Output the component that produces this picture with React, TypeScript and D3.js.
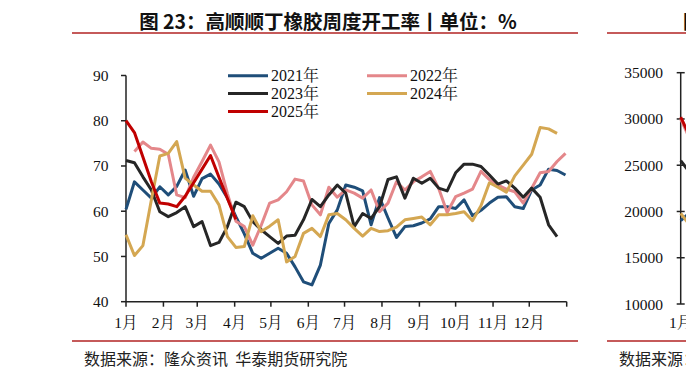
import React from "react";
import * as d3 from "d3";

// ---------- data ----------
const monthLabels = ["1月", "2月", "3月", "4月", "5月", "6月", "7月", "8月", "9月", "10月", "11月", "12月"];
const monthStartDays = [0, 31, 59, 90, 120, 151, 181, 212, 243, 273, 304, 334, 365];
const yTicks = [40, 50, 60, 70, 80, 90];
const rightYTicks = [10000, 15000, 20000, 25000, 30000, 35000];

const seriesNames = ["2021年", "2022年", "2023年", "2024年", "2025年"];
const seriesColors = ["#1F4E79", "#E4878A", "#262626", "#D4A752", "#C00000"];
const seriesStartWeek = [0, 1, 0, 0, 0];

const v2021 = [60.4, 66.5, 64.7, 62.9, 65.4, 63.6, 65.5, 69.1, 63.3, 67.2, 68.2, 66.0, 62.9, 58.8, 55.0, 50.7, 49.6, 50.7, 51.8, 50.7, 47.7, 44.4, 43.7, 48.1, 57.3, 60.3, 65.8, 65.3, 64.5, 57.0, 63.0, 58.5, 54.2, 56.6, 56.8, 57.4, 58.3, 61.0, 61.0, 60.6, 62.5, 59.0, 60.2, 61.8, 63.1, 63.2, 61.0, 60.6, 64.7, 65.8, 69.3, 69.0, 68.0];
const v2022 = [73.2, 75.3, 73.9, 73.7, 72.6, 63.6, 63.0, 67.5, 71.0, 74.6, 70.9, 63.9, 57.8, 56.6, 52.5, 56.9, 61.8, 62.5, 64.3, 67.1, 66.7, 61.4, 59.2, 65.3, 63.1, 64.7, 64.0, 62.9, 64.7, 59.9, 61.8, 66.5, 64.7, 66.5, 67.6, 68.8, 65.0, 59.7, 63.2, 64.0, 64.9, 68.8, 67.0, 65.8, 64.9, 64.3, 61.8, 65.1, 68.5, 68.8, 71.0, 72.8];
const v2023 = [71.2, 70.7, 67.6, 64.7, 59.9, 58.8, 59.7, 61.0, 56.6, 57.7, 52.4, 53.1, 56.6, 62.0, 61.0, 57.7, 55.9, 54.4, 52.9, 54.5, 54.7, 58.1, 62.6, 61.0, 63.6, 65.8, 64.0, 56.6, 59.5, 58.4, 61.0, 67.0, 67.6, 62.9, 67.3, 66.2, 67.3, 65.1, 64.5, 68.5, 70.4, 70.4, 69.9, 68.0, 66.0, 66.7, 65.1, 63.1, 65.1, 63.1, 57.0, 54.4];
const v2024 = [54.8, 50.2, 52.4, 62.5, 72.2, 72.8, 75.4, 67.3, 65.8, 64.4, 64.4, 61.4, 54.4, 52.0, 52.2, 59.0, 55.5, 56.7, 58.1, 48.8, 50.0, 55.1, 56.2, 54.4, 59.2, 59.5, 58.1, 56.2, 54.5, 56.2, 55.5, 55.7, 56.5, 58.1, 58.4, 58.7, 57.0, 59.2, 59.2, 59.5, 59.9, 57.9, 61.2, 66.3, 65.3, 64.2, 67.8, 70.2, 72.6, 78.5, 78.2, 77.2];
const v2025 = [80.0, 77.4, 72.0, 66.5, 61.8, 61.6, 61.0, 63.3, 66.3, 69.3, 72.3, 67.5, 62.8, 58.2];
const seriesValues = [v2021, v2022, v2023, v2024, v2025];

// fragments of the neighbouring chart (cut off at the right edge)
const rightValues = [
  [19000, 19800],
  [30000, 28000],
  [25500, 24300],
  [19800, 18600],
  [30200, 28300],
];

const titleText = "图 23：高顺顺丁橡胶周度开工率丨单位：%";
const rightTitleText = "图 24：高顺顺丁橡胶库存丨单位：吨";
const sourceText = "数据来源：隆众资讯  华泰期货研究院";

// ---------- layout ----------
const W = 686;
const H = 377;
const serif = "'Liberation Serif', 'Times New Roman', 'Noto Serif CJK SC', 'Noto Sans CJK SC', serif";
const cjk = "'Noto Sans CJK SC', sans-serif";

export default function App() {
  const x = d3.scaleLinear().domain([0, 365]).range([126, 566.7]);
  const y = d3.scaleLinear().domain([40, 90]).range([301.7, 75.5]);
  const xr = d3.scaleLinear().domain([0, 365]).range([680.7, 1121.4]);
  const yr = d3.scaleLinear().domain([10000, 35000]).range([304, 72.7]);

  const makeLine = (start: number) =>
    d3
      .line<number>()
      .x((_, i) => x((start + i) * 7))
      .y((d) => y(d));

  const rightLine = d3
    .line<number>()
    .x((_, i) => xr(i * 7))
    .y((d) => yr(d));

  const legendItems = [
    { idx: 0, col: 0, row: 0 },
    { idx: 1, col: 1, row: 0 },
    { idx: 2, col: 0, row: 1 },
    { idx: 3, col: 1, row: 1 },
    { idx: 4, col: 0, row: 2 },
  ];
  const legendColX = [228, 367];
  const legendRowY = [75.7, 93.5, 111.5];

  return (
    <svg
      width={W}
      height={H}
      style={{ position: "absolute", left: 0, top: 0, background: "#fff" }}
    >
      {/* title */}
      <text x={328} y={20} textAnchor="middle" dominantBaseline="central" fontFamily={cjk} fontWeight={700} fontSize={19.5} fill="#111">
        {titleText}
      </text>
      <line x1={72} x2={578} y1={33} y2={33} stroke="#C55A5A" strokeWidth={2} />
      <text x={683} y={20} dominantBaseline="central" fontFamily={cjk} fontWeight={700} fontSize={19.5} fill="#111">
        {rightTitleText}
      </text>
      <line x1={607} x2={W} y1={33} y2={33} stroke="#C55A5A" strokeWidth={2} />

      {/* y axis */}
      <line x1={x(0)} x2={x(0)} y1={y(90)} y2={y(40)} stroke="#222" strokeWidth={1.5} />
      {yTicks.map((t) => (
        <g key={t}>
          <line x1={x(0) - 5} x2={x(0)} y1={y(t)} y2={y(t)} stroke="#222" strokeWidth={1.5} />
          <text x={108.5} y={y(t)} textAnchor="end" dominantBaseline="central" fontFamily={serif} fontSize={15.5} fill="#111">
            {t}
          </text>
        </g>
      ))}

      {/* x axis */}
      <line x1={x(0)} x2={x(365)} y1={y(40)} y2={y(40)} stroke="#222" strokeWidth={1.5} />
      {monthStartDays.map((d) => (
        <line key={d} x1={x(d)} x2={x(d)} y1={y(40)} y2={y(40) + 5} stroke="#222" strokeWidth={1.5} />
      ))}
      {monthLabels.map((m, i) => (
        <text key={m} x={x(monthStartDays[i])} y={322} textAnchor="middle" dominantBaseline="central" fontFamily={serif} fontSize={15.5} fill="#111">
          {m}
        </text>
      ))}

      {/* series */}
      {seriesValues.map((vals, s) => (
        <path
          key={s}
          d={makeLine(seriesStartWeek[s])(vals) || ""}
          fill="none"
          stroke={seriesColors[s]}
          strokeWidth={3}
          strokeLinejoin="round"
        />
      ))}

      {/* legend */}
      {legendItems.map((it) => (
        <g key={it.idx}>
          <line
            x1={legendColX[it.col]}
            x2={legendColX[it.col] + 40}
            y1={legendRowY[it.row]}
            y2={legendRowY[it.row]}
            stroke={seriesColors[it.idx]}
            strokeWidth={3}
          />
          <text x={legendColX[it.col] + 43} y={legendRowY[it.row]} dominantBaseline="central" fontFamily={serif} fontSize={16} fill="#111">
            {seriesNames[it.idx]}
          </text>
        </g>
      ))}

      {/* neighbouring chart fragment */}
      <line x1={xr(0)} x2={xr(0)} y1={yr(35000)} y2={yr(10000)} stroke="#222" strokeWidth={1.5} />
      {rightYTicks.map((t) => (
        <g key={t}>
          <line x1={xr(0) - 4} x2={xr(0) + 4} y1={yr(t)} y2={yr(t)} stroke="#222" strokeWidth={1.5} />
          <text x={663} y={yr(t)} textAnchor="end" dominantBaseline="central" fontFamily={serif} fontSize={15.5} fill="#111">
            {t}
          </text>
        </g>
      ))}
      {rightValues.map((vals, s) => (
        <path key={s} d={rightLine(vals) || ""} fill="none" stroke={seriesColors[s]} strokeWidth={3} />
      ))}
      <text x={xr(0)} y={322} textAnchor="middle" dominantBaseline="central" fontFamily={serif} fontSize={15.5} fill="#111">
        {monthLabels[0]}
      </text>

      {/* footer */}
      <line x1={72} x2={578} y1={341} y2={341} stroke="#C55A5A" strokeWidth={2} />
      <line x1={607} x2={W} y1={341} y2={341} stroke="#C55A5A" strokeWidth={2} />
      <text x={84} y={358} dominantBaseline="central" fontFamily={cjk} fontSize={16} fill="#222" style={{ whiteSpace: "pre" }}>
        {sourceText}
      </text>
      <text x={619} y={358} dominantBaseline="central" fontFamily={cjk} fontSize={16} fill="#222" style={{ whiteSpace: "pre" }}>
        {sourceText}
      </text>
    </svg>
  );
}
